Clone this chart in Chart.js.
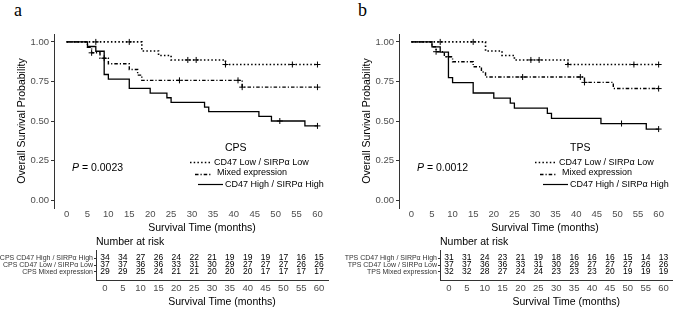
<!DOCTYPE html>
<html>
<head>
<meta charset="utf-8">
<script src="https://cdn.jsdelivr.net/npm/chart.js@4.4.0/dist/chart.umd.min.js"></script>
<style>
  body { margin: 0; background: #fff; width: 676px; height: 313px; overflow: hidden; position: relative; }
  canvas { position: absolute; }
  .tag { position: absolute; top: 0; font-family: 'Liberation Serif', 'DejaVu Serif', serif; font-size: 18px; line-height: 20px; color: #000; }
</style>
</head>
<body>
<div class="tag" style="left:14px">a</div>
<div class="tag" style="left:358px">b</div>
<canvas id="km-a" width="336" height="236" style="left:0;top:0"></canvas>
<canvas id="risk-a" width="336" height="77" style="left:0;top:236px"></canvas>
<canvas id="km-b" width="331" height="236" style="left:345px;top:0"></canvas>
<canvas id="risk-b" width="332" height="77" style="left:344px;top:236px"></canvas>
<script>
// Axes
const xTicks = [0, 5, 10, 15, 20, 25, 30, 35, 40, 45, 50, 55, 60];
const yTicks = [0, 0.25, 0.5, 0.75, 1];
const riskTimes = [0, 5, 10, 15, 20, 25, 30, 35, 40, 45, 50, 55, 60];

// Panel a (CPS) - survival steps
const aHighTimes = [0, 5, 7, 9, 10, 15, 20, 24, 25, 33, 34, 46, 49, 57, 60];
const aHighSurv = [1, 0.971, 0.941, 0.794, 0.765, 0.706, 0.676, 0.647, 0.618, 0.588, 0.559, 0.529, 0.500, 0.469, 0.469];
const aHighCensT = [51, 60];
const aHighCensS = [0.500, 0.469];

const aLowTimes = [0, 18, 22, 25, 38, 60];
const aLowSurv = [1, 0.943, 0.914, 0.886, 0.857, 0.857];
const aLowCensT = [7, 15, 29, 31, 38, 54, 60];
const aLowCensS = [1, 1, 0.886, 0.886, 0.857, 0.857, 0.857];

const aMixTimes = [0, 5, 6, 8, 10, 15, 17, 18, 42, 60];
const aMixSurv = [1, 0.966, 0.931, 0.897, 0.862, 0.826, 0.790, 0.757, 0.714, 0.714];
const aMixCensT = [6, 9, 27, 41, 42, 60];
const aMixCensS = [0.931, 0.897, 0.757, 0.757, 0.714, 0.714];

// Panel b (TPS) - survival steps
const bHighTimes = [0, 5, 7, 9, 10, 15, 20, 24, 25, 33, 34, 46, 57, 60];
const bHighSurv = [1, 0.968, 0.935, 0.774, 0.742, 0.677, 0.645, 0.613, 0.581, 0.548, 0.516, 0.484, 0.449, 0.449];
const bHighCensT = [51, 60];
const bHighCensS = [0.484, 0.449];

const bLowTimes = [0, 18, 22, 25, 38, 60];
const bLowSurv = [1, 0.943, 0.914, 0.886, 0.857, 0.857];
const bLowCensT = [7, 15, 29, 31, 38, 54, 60];
const bLowCensS = [1, 1, 0.886, 0.886, 0.857, 0.857, 0.857];

const bMixTimes = [0, 5, 6, 8, 10, 15, 17, 18, 42, 49, 60];
const bMixSurv = [1, 0.969, 0.938, 0.906, 0.875, 0.843, 0.810, 0.778, 0.744, 0.705, 0.705];
const bMixCensT = [6, 9, 27, 41, 42, 60];
const bMixCensS = [0.938, 0.906, 0.778, 0.778, 0.744, 0.705];

// Number at risk
const aRiskLabels = ['CPS CD47 High / SIRPα High', 'CPS CD47 Low / SIRPα Low', 'CPS Mixed expression'];
const aRiskHigh = [34, 34, 27, 26, 24, 22, 21, 19, 19, 19, 17, 16, 15];
const aRiskLow = [37, 37, 36, 36, 33, 31, 30, 29, 27, 27, 27, 26, 26];
const aRiskMix = [29, 29, 25, 24, 21, 21, 20, 20, 20, 17, 17, 17, 17];

const bRiskLabels = ['TPS CD47 High / SIRPα High', 'TPS CD47 Low / SIRPα Low', 'TPS Mixed expression'];
const bRiskHigh = [31, 31, 24, 23, 21, 19, 18, 16, 16, 16, 15, 14, 13];
const bRiskLow = [37, 37, 36, 36, 33, 31, 30, 29, 27, 27, 27, 26, 26];
const bRiskMix = [32, 32, 28, 27, 24, 24, 23, 23, 23, 20, 19, 19, 19];

const legendNames = ['CD47 Low / SIRPα Low', 'Mixed expression', 'CD47 High / SIRPα High'];
const xTitle = 'Survival Time (months)';

const FONT = "'Liberation Sans', Arial, sans-serif";
Chart.defaults.font.family = FONT;
Chart.defaults.color = '#000';

const DASH = {
    dotted: [1.5, 2.2],
    dashdot: [3.5, 2, 1.2, 2],
    solid: []
};

function pts(xs, ys) {
    return xs.map((x, i) => ({ x: x, y: ys[i] }));
}

function curve(label, xs, ys, dash, width) {
    return {
        type: 'line',
        label: label,
        data: pts(xs, ys),
        borderColor: '#000',
        borderWidth: width,
        borderDash: dash,
        stepped: true,
        pointRadius: 0,
        fill: false
    };
}

function censor(xs, ys) {
    return {
        type: 'scatter',
        data: pts(xs, ys),
        pointStyle: 'cross',
        pointRadius: 3,
        borderColor: '#000',
        borderWidth: 1,
        showLine: false
    };
}

// x title sits a little right of the axis centre in the original
function drawXTitle(chart, y) {
    const { ctx, chartArea: a } = chart;
    ctx.save();
    ctx.fillStyle = '#000';
    ctx.textAlign = 'center';
    ctx.textBaseline = 'middle';
    ctx.font = `10.5px ${FONT}`;
    ctx.fillText(xTitle, (a.left + a.right) / 2 + 10, y);
    ctx.restore();
}

// legend + p value, drawn inside the plot area
const kmExtras = {
    id: 'kmExtras',
    afterDraw(chart, args, opts) {
        const { ctx, chartArea: a } = chart;
        ctx.save();
        ctx.fillStyle = '#000';
        ctx.strokeStyle = '#000';
        ctx.textBaseline = 'middle';
        ctx.textAlign = 'left';
        ctx.font = `10.5px ${FONT}`;
        ctx.fillText(opts.title, a.left + 171, a.top + 114);

        const rows = [
            { y: 128.5, x1: 136, x2: 158, tx: 160, ty: 128.5, dash: DASH.dotted, w: 1.6 },
            { y: 140.5, x1: 141, x2: 158, tx: 163, ty: 138.5, dash: DASH.dashdot, w: 1.4 },
            { y: 150.5, x1: 144, x2: 169, tx: 171, ty: 150.5, dash: DASH.solid, w: 1.2 }
        ];
        ctx.font = `9px ${FONT}`;
        rows.forEach((r, i) => {
            ctx.beginPath();
            ctx.lineWidth = r.w;
            ctx.setLineDash(r.dash);
            ctx.moveTo(a.left + r.x1, a.top + r.y);
            ctx.lineTo(a.left + r.x2, a.top + r.y);
            ctx.stroke();
            ctx.fillText(legendNames[i], a.left + r.tx, a.top + r.ty);
        });
        ctx.setLineDash([]);

        const px = a.left + 18, py = a.top + 134;
        ctx.font = `italic 10.5px ${FONT}`;
        ctx.fillText('P', px, py);
        const w = ctx.measureText('P').width;
        ctx.font = `10.5px ${FONT}`;
        ctx.fillText(' = ' + opts.pValue, px + w, py);
        ctx.restore();
        drawXTitle(chart, 228);
    }
};

function makeKm(id, padRight, title, pValue, sets) {
    return new Chart(document.getElementById(id), {
        type: 'line',
        data: { datasets: sets },
        plugins: [kmExtras],
        options: {
            responsive: false,
            animation: false,
            events: [],
            layout: { padding: { top: 34, right: padRight, left: 0, bottom: 0 } },
            plugins: {
                legend: { display: false },
                tooltip: { enabled: false },
                kmExtras: { title: title, pValue: pValue }
            },
            scales: {
                x: {
                    type: 'linear',
                    min: -3, max: 63,
                    afterBuildTicks: s => { s.ticks = xTicks.map(v => ({ value: v })); },
                    afterFit: s => { s.height = 28; },
                    grid: { display: false, drawTicks: false },
                    border: { display: false },
                    ticks: { autoSkip: false, maxRotation: 0, padding: 1, color: '#4d4d4d', font: { size: 9.5 } }
                },
                y: {
                    min: -0.05, max: 1.05,
                    afterBuildTicks: s => { s.ticks = yTicks.map(v => ({ value: v })); },
                    afterFit: s => { s.width = 54; },
                    grid: { drawOnChartArea: false, tickLength: 3, color: '#333' },
                    border: { display: true, color: '#333', width: 1 },
                    ticks: { padding: 2, color: '#4d4d4d', font: { size: 9.5 }, callback: v => v.toFixed(2) },
                    title: { display: true, text: 'Overall Survival Probability', color: '#000', font: { size: 10.5 }, padding: { top: 15.4, bottom: 0 } }
                }
            }
        }
    });
}

// number-at-risk counts, placed through the chart's scales
const riskText = {
    id: 'riskText',
    afterDatasetsDraw(chart, args, opts) {
        const { ctx, chartArea: a } = chart;
        ctx.save();
        ctx.fillStyle = '#000';
        ctx.textBaseline = 'middle';
        ctx.textAlign = 'left';
        ctx.font = `10.5px ${FONT}`;
        ctx.fillText('Number at risk', a.left, a.top - 8);
        ctx.textAlign = 'center';
        ctx.font = `8.5px ${FONT}`;
        chart.data.datasets.forEach((ds, di) => {
            const meta = chart.getDatasetMeta(di);
            meta.data.forEach((el, i) => {
                ctx.fillText(String(opts.counts[di][i]), el.x, el.y);
            });
        });
        ctx.restore();
        drawXTitle(chart, 66);
    }
};

function makeRisk(id, padRight, labels, counts) {
    const sets = counts.map((row, r) => ({
        data: riskTimes.map(t => ({ x: t, y: r })),
        pointRadius: 0,
        showLine: false
    }));
    return new Chart(document.getElementById(id), {
        type: 'scatter',
        data: { datasets: sets },
        plugins: [riskText],
        options: {
            responsive: false,
            animation: false,
            events: [],
            layout: { padding: { top: 14, right: padRight, left: 0, bottom: 0 } },
            plugins: {
                legend: { display: false },
                tooltip: { enabled: false },
                riskText: { counts: counts }
            },
            scales: {
                x: {
                    type: 'linear',
                    min: -2.5, max: 62.5,
                    afterBuildTicks: s => { s.ticks = riskTimes.map(v => ({ value: v })); },
                    afterFit: s => { s.height = 33; },
                    grid: { display: false, drawTicks: false },
                    border: { display: true, color: '#333', width: 1 },
                    ticks: { autoSkip: false, maxRotation: 0, padding: 3, color: '#4d4d4d', font: { size: 9.5 } }
                },
                y: {
                    type: 'linear',
                    reverse: true,
                    min: -1.143, max: 3.143,
                    afterBuildTicks: s => { s.ticks = [0, 1, 2].map(v => ({ value: v })); },
                    afterFit: s => { s.width = 96; },
                    grid: { drawOnChartArea: false, tickLength: 2, color: '#333' },
                    border: { display: true, color: '#333', width: 1 },
                    ticks: { padding: 1, color: '#333', font: { size: 7 }, callback: v => labels[v] }
                }
            }
        }
    });
}

makeKm('km-a', 6, 'CPS', '0.0023', [
    curve('CD47 High / SIRPα High', aHighTimes, aHighSurv, DASH.solid, 1.3),
    curve('CD47 Low / SIRPα Low', aLowTimes, aLowSurv, DASH.dotted, 1.6),
    curve('Mixed expression', aMixTimes, aMixSurv, DASH.dashdot, 1.4),
    censor(aHighCensT, aHighCensS),
    censor(aLowCensT, aLowCensS),
    censor(aMixCensT, aMixCensS)
]);

makeKm('km-b', 1.5, 'TPS', '0.0012', [
    curve('CD47 High / SIRPα High', bHighTimes, bHighSurv, DASH.solid, 1.3),
    curve('CD47 Low / SIRPα Low', bLowTimes, bLowSurv, DASH.dotted, 1.6),
    curve('Mixed expression', bMixTimes, bMixSurv, DASH.dashdot, 1.4),
    censor(bHighCensT, bHighCensS),
    censor(bLowCensT, bLowCensS),
    censor(bMixCensT, bMixCensS)
]);

makeRisk('risk-a', 8, aRiskLabels, [aRiskHigh, aRiskLow, aRiskMix]);
makeRisk('risk-b', 3.5, bRiskLabels, [bRiskHigh, bRiskLow, bRiskMix]);
</script>
</body>
</html>
